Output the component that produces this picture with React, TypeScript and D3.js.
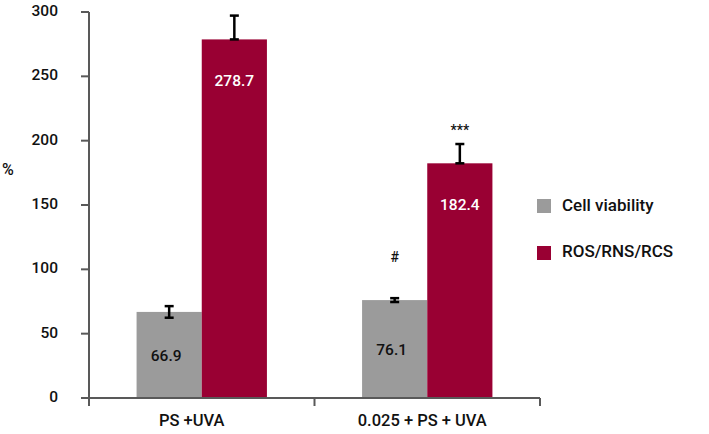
import React from "react";
import * as d3 from "d3";

const categories = ["PS +UVA", "0.025 + PS + UVA"];
const seriesNames = ["Cell viability", "ROS/RNS/RCS"];
const cellViability = [66.9, 76.1];
const cellViabilityErr = [4.5, 1.5];
const ros = [278.7, 182.4];
const rosErr = [18.5, 15];
const significance = [["", ""], ["#", "***"]];
const yTicks = [0, 50, 100, 150, 200, 250, 300];
const colors = ["#9b9b9b", "#990033"];

const W = 709, H = 434;
const x0 = 89, x1 = 540, yTop = 12, yBot = 398;
const font = "Roboto, 'DejaVu Sans', sans-serif";

export default function App() {
  const y = d3.scaleLinear().domain([0, 300]).range([yBot, yTop]);
  const xc = d3.scaleBand().domain(categories).range([x0, x1]).paddingInner(0).paddingOuter(0);
  const xs = d3.scaleBand().domain(seriesNames).range([0, xc.bandwidth()]).paddingOuter(0.73).paddingInner(0);
  const series = [
    { vals: cellViability, errs: cellViabilityErr, both: true },
    { vals: ros, errs: rosErr, both: false },
  ];
  const axisColor = "#595959";
  return (
    <svg width={W} height={H} style={{ position: "absolute", left: 0, top: 0 }} fontFamily={font} fontWeight={500}>
      <rect width={W} height={H} fill="#fff" />
      {categories.map((c, ci) =>
        series.map((s, si) => {
          const bx = (xc(c) as number) + (xs(seriesNames[si]) as number);
          const bw = xs.bandwidth();
          const v = s.vals[ci];
          const e = s.errs[ci];
          const cx = bx + bw / 2;
          const top = y(v);
          const eTop = y(v + e);
          const eBot = s.both ? y(v - e) : y(v);
          const labelY = si === 1 ? top + 43 : (top + yBot) / 2 + 2;
          const sig = significance[ci][si];
          return (
            <g key={`${ci}-${si}`}>
              <rect x={bx} y={top} width={bw} height={yBot - top} fill={colors[si]} />
              <line x1={cx} x2={cx} y1={eTop} y2={eBot} stroke="#000" strokeWidth={2.5} />
              <line x1={cx - 4.5} x2={cx + 4.5} y1={eTop} y2={eTop} stroke="#000" strokeWidth={2.5} />
              <line x1={cx - 4.5} x2={cx + 4.5} y1={eBot} y2={eBot} stroke="#000" strokeWidth={2.5} />
              <text x={si === 0 ? cx - 3 : cx} y={labelY} textAnchor="middle" dominantBaseline="middle" fontSize={15.5}
                fill={si === 1 ? "#fff" : "#111"}>{v.toFixed(1)}</text>
              {sig && (
                <text x={cx} y={eTop - (si === 0 ? 40 : 13)} textAnchor="middle" dominantBaseline="middle"
                  fontSize={14} fill="#111">{sig}</text>
              )}
            </g>
          );
        })
      )}
      {/* y axis */}
      <line x1={x0} x2={x0} y1={yTop} y2={yBot + 8} stroke={axisColor} strokeWidth={2} />
      {yTicks.map((t) => (
        <g key={t}>
          <line x1={x0 - 8} x2={x0} y1={y(t)} y2={y(t)} stroke={axisColor} strokeWidth={2} />
          <text x={58} y={y(t)} textAnchor="end" dominantBaseline="middle" fontSize={15.5} fill="#111">{t}</text>
        </g>
      ))}
      {/* x axis */}
      <line x1={x0 - 8} x2={x1} y1={yBot} y2={yBot} stroke={axisColor} strokeWidth={2} />
      {[x0, ...categories.map((c) => (xc(c) as number) + xc.bandwidth())].map((xx, i) => (
        <line key={i} x1={xx} x2={xx} y1={yBot} y2={yBot + 8} stroke={axisColor} strokeWidth={2} />
      ))}
      {categories.map((c, i) => (
        <text key={c} x={(xc(c) as number) + xc.bandwidth() / 2 + (i === 0 ? -10 : -5)} y={422} textAnchor="middle"
          dominantBaseline="middle" fontSize={16.5} fill="#111">{c}</text>
      ))}
      <text x={2} y={171} dominantBaseline="middle" fontSize={16} fill="#111">%</text>
      {/* legend */}
      {seriesNames.map((n, i) => (
        <g key={n}>
          <rect x={537} y={199 + i * 47} width={14} height={14} fill={colors[i]} />
          <text x={562} y={207 + i * 46} dominantBaseline="middle" fontSize={17} fill="#111">{n}</text>
        </g>
      ))}
    </svg>
  );
}
